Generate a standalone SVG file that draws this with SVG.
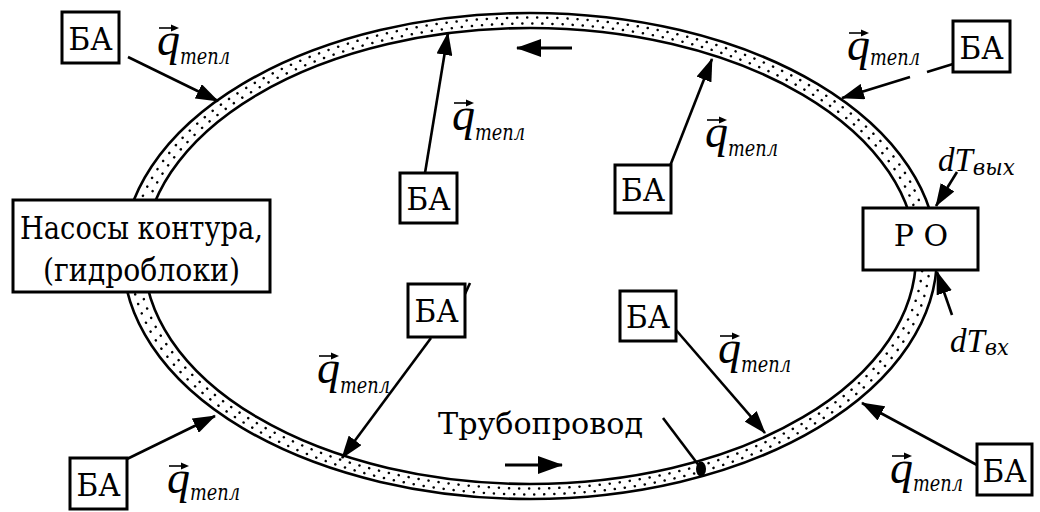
<svg xmlns="http://www.w3.org/2000/svg" width="1040" height="512" viewBox="0 0 1040 512">
<style>
.ln{stroke:#000;stroke-width:2.6;fill:none}
.ar{stroke:#000;stroke-width:2.6;fill:none;marker-end:url(#ah)}
.fl{stroke:#000;stroke-width:2.8;fill:none;marker-end:url(#ahL)}
.box{fill:#fff;stroke:#000;stroke-width:3}
.t{font-family:'DejaVu Serif',serif;fill:#000}
.ba{font-size:31px;text-anchor:middle}
.q{font-family:'Liberation Serif','DejaVu Serif',serif;font-style:italic;font-size:46px;fill:#000}
.s{font-family:'DejaVu Serif',serif;font-style:italic;font-size:22px}
.dt{font-family:'Liberation Serif','DejaVu Serif',serif;font-style:italic;font-size:33px;fill:#000}
.dot{fill:none;stroke:#000;stroke-width:2.5;stroke-linecap:round}
</style>
<defs>
<marker id="ah" markerUnits="userSpaceOnUse" markerWidth="23" markerHeight="16" refX="22" refY="8" orient="auto"><path d="M0,0 L23,8 L0,16 Z" fill="#000"/></marker>
<marker id="ahL" markerUnits="userSpaceOnUse" markerWidth="25" markerHeight="18" refX="24" refY="9" orient="auto"><path d="M0,0 L25,9 L0,18 Z" fill="#000"/></marker>
<g id="vec"><path d="M0 0H16" stroke="#000" stroke-width="1.6"/><path d="M20 0L12 -3.5L12 3.5Z" fill="#000"/></g>
</defs>
<rect width="1040" height="512" fill="#fff"/>
<g id="ring">
<ellipse cx="530" cy="256" rx="407" ry="243" class="ln"/>
<ellipse cx="530" cy="256" rx="386" ry="228" class="ln"/>
<ellipse cx="530" cy="256" rx="400" ry="238.5" class="dot" stroke-dasharray="0.1 10"/>
<ellipse cx="530" cy="256" rx="393" ry="232.5" class="dot" stroke-dasharray="0.1 10" stroke-dashoffset="5"/>
</g>
<g id="connectors">
<line x1="128" y1="57" x2="218" y2="101" class="ar"/>
<line x1="425" y1="173" x2="448" y2="33" class="ar"/>
<line x1="670" y1="166" x2="712" y2="59" class="ar"/>
<line x1="953" y1="64" x2="927" y2="72" class="ln"/>
<line x1="910" y1="77" x2="842" y2="98" class="ar"/>
<line x1="957" y1="172" x2="936" y2="206" class="ar"/>
<line x1="952" y1="315" x2="937" y2="272" class="ar"/>
<line x1="977" y1="465" x2="862" y2="403" class="ar"/>
<line x1="676" y1="330" x2="765" y2="433" class="ar"/>
<line x1="431" y1="338" x2="342" y2="458" class="ar"/>
<line x1="127" y1="459" x2="215" y2="416" class="ar"/>
<line x1="572" y1="48" x2="517" y2="48" class="fl"/>
<line x1="505" y1="465" x2="562" y2="465" class="fl"/>
<line x1="663" y1="418" x2="700" y2="467" class="ln"/>
<ellipse cx="701" cy="469" rx="5" ry="7.5" fill="#000"/>
<line x1="470" y1="283" x2="465" y2="294" class="ln"/>
</g>
<g id="labels">
<text class="q" x="157" y="55">q<tspan class="s" dy="9" textLength="50" lengthAdjust="spacingAndGlyphs">тепл</tspan></text>
<use href="#vec" x="159" y="28"/>
<text class="q" x="452" y="130">q<tspan class="s" dy="10" textLength="50" lengthAdjust="spacingAndGlyphs">тепл</tspan></text>
<use href="#vec" x="454" y="103"/>
<text class="q" x="705" y="147">q<tspan class="s" dy="9" textLength="50" lengthAdjust="spacingAndGlyphs">тепл</tspan></text>
<use href="#vec" x="707" y="120"/>
<text class="q" x="847" y="60">q<tspan class="s" dy="5" textLength="50" lengthAdjust="spacingAndGlyphs">тепл</tspan></text>
<use href="#vec" x="849" y="33"/>
<text class="q" x="718" y="363">q<tspan class="s" dy="9" textLength="50" lengthAdjust="spacingAndGlyphs">тепл</tspan></text>
<use href="#vec" x="720" y="336"/>
<text class="q" x="890" y="483">q<tspan class="s" dy="8" textLength="50" lengthAdjust="spacingAndGlyphs">тепл</tspan></text>
<use href="#vec" x="892" y="456"/>
<text class="q" x="317" y="383">q<tspan class="s" dy="10" textLength="50" lengthAdjust="spacingAndGlyphs">тепл</tspan></text>
<use href="#vec" x="319" y="356"/>
<text class="q" x="167" y="493">q<tspan class="s" dy="7" textLength="50" lengthAdjust="spacingAndGlyphs">тепл</tspan></text>
<use href="#vec" x="169" y="466"/>
<text class="dt" x="938" y="171">dT<tspan class="s" dy="4" textLength="42" lengthAdjust="spacingAndGlyphs">вых</tspan></text>
<text class="dt" x="950" y="352">dT<tspan class="s" dy="3" textLength="24" lengthAdjust="spacingAndGlyphs">вх</tspan></text>
<text class="t" x="438" y="434" font-size="30" textLength="205" lengthAdjust="spacingAndGlyphs">Трубопровод</text>
</g>
<g id="pumps">
<rect class="box" x="13" y="200" width="257" height="92"/>
<text class="t" x="20" y="239" font-size="31" textLength="243" lengthAdjust="spacingAndGlyphs">Насосы контура,</text>
<text class="t" x="43" y="281" font-size="31" textLength="197" lengthAdjust="spacingAndGlyphs">(гидроблоки)</text>
</g>
<g id="ro">
<rect class="box" x="863" y="208" width="115" height="62"/>
<text class="t" x="921" y="246" font-size="30" text-anchor="middle">Р О</text>
</g>
<g id="ba1"><rect class="box" x="62" y="12" width="57" height="51"/><text class="t ba" x="90.5" y="50" textLength="44" lengthAdjust="spacingAndGlyphs">БА</text></g>
<g id="ba2"><rect class="box" x="953" y="21" width="57" height="51"/><text class="t ba" x="981.5" y="59" textLength="44" lengthAdjust="spacingAndGlyphs">БА</text></g>
<g id="ba3"><rect class="box" x="400" y="173" width="57" height="50"/><text class="t ba" x="428.5" y="210" textLength="44" lengthAdjust="spacingAndGlyphs">БА</text></g>
<g id="ba4"><rect class="box" x="615" y="165" width="56" height="48"/><text class="t ba" x="643" y="201" textLength="44" lengthAdjust="spacingAndGlyphs">БА</text></g>
<g id="ba5"><rect class="box" x="408" y="284" width="57" height="53"/><text class="t ba" x="436.5" y="322" textLength="44" lengthAdjust="spacingAndGlyphs">БА</text></g>
<g id="ba6"><rect class="box" x="620" y="291" width="56" height="50"/><text class="t ba" x="648" y="328" textLength="44" lengthAdjust="spacingAndGlyphs">БА</text></g>
<g id="ba7"><rect class="box" x="70" y="458" width="57" height="51"/><text class="t ba" x="98.5" y="496" textLength="44" lengthAdjust="spacingAndGlyphs">БА</text></g>
<g id="ba8"><rect class="box" x="977" y="444" width="55" height="51"/><text class="t ba" x="1004.5" y="482" textLength="44" lengthAdjust="spacingAndGlyphs">БА</text></g>
</svg>
